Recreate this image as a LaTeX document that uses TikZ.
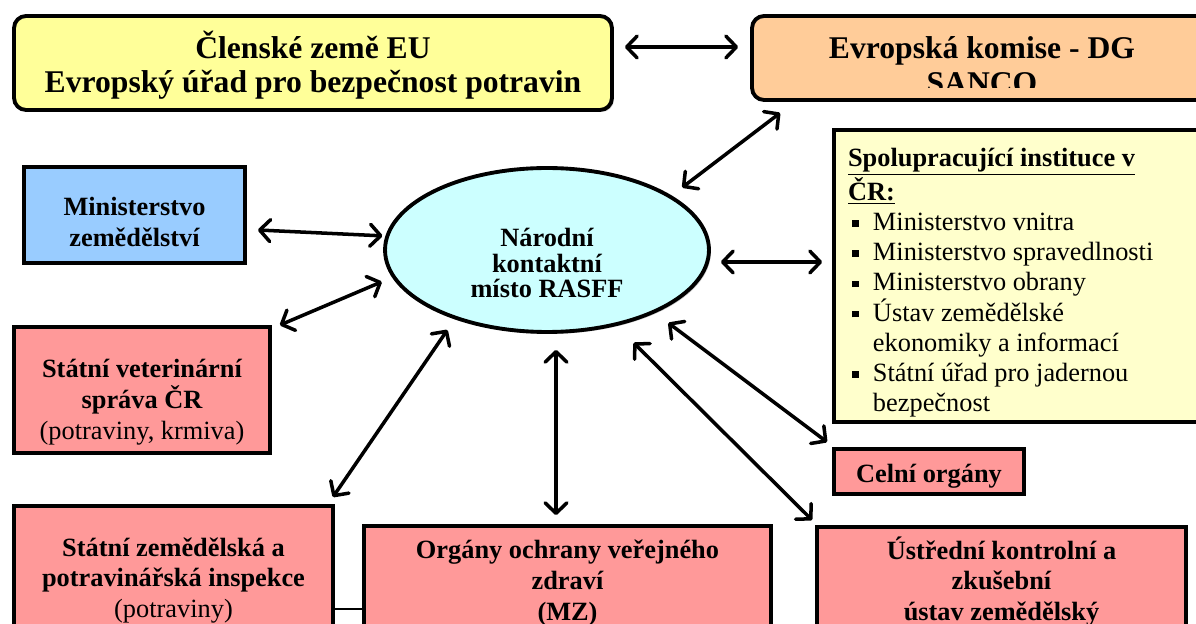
\documentclass[tikz,border=0pt]{standalone}
\usepackage{fontspec}
\setmainfont{Liberation Serif}
\usetikzlibrary{arrows.meta,shadows,shapes.geometric}

\definecolor{euyellow}{HTML}{FFFF99}
\definecolor{sancoorange}{HTML}{FFCC99}
\definecolor{mzeblue}{HTML}{99CCFF}
\definecolor{boxpink}{HTML}{FF9999}
\definecolor{rasffcyan}{HTML}{CCFFFF}
\definecolor{spolyellow}{HTML}{FFFFCC}

\newcommand{\lblfont}{\fontsize{15}{17.6}\selectfont\bfseries}
\newcommand{\topfont}{\fontsize{18}{19.8}\selectfont\bfseries}
\newcommand{\sqbul}{\makebox[14.2pt][l]{\hspace{2.3pt}\raisebox{2.1pt}{\rule{3.8pt}{3.8pt}}}}

\tikzset{
  box/.style={draw,line width=2.2pt,align=center,font=\lblfont,
    drop shadow={shadow xshift=1.1pt,shadow yshift=-1.1pt,fill=black!45}},
  topbox/.style={box,rounded corners=0.24cm,font=\topfont},
  link/.style={line width=2pt,
    {Straight Barb[length=6pt,width=12.5pt,round]}-{Straight Barb[length=6pt,width=12.5pt,round]}},
}

\begin{document}
\begin{tikzpicture}[x=0.02cm,y=-0.02cm]
\useasboundingbox (0,0) rectangle (1196,624);
\clip (0,0) rectangle (1196,624);

% horni rada
\node[topbox,fill=euyellow,minimum width=11.96cm,minimum height=1.88cm,
  text height=34pt,text depth=0pt] (eu) at (313,63)
  {Členské země EU\\Evropský úřad pro bezpečnost potravin};
\node[topbox,fill=sancoorange,minimum width=9.2cm,minimum height=1.68cm] (sanco) at (982,58) {};
\begin{scope}
\clip (sanco.north west) rectangle ([shift={(0,-14)}]sanco.south east);
\node[font=\topfont,align=center,text height=40pt,text depth=0pt] (sancotxt) at (sanco.center)
  {Evropská komise - DG\\SANCO};
\end{scope}

% stred
\node[box,ellipse,fill=rasffcyan,minimum width=6.48cm,minimum height=3.28cm,
  font=\fontsize{15}{14.5}\selectfont\bfseries,
  text height=54.4pt,text depth=0pt] (rasff) at (547,250) {Národní\\kontaktní\\místo RASFF};

% leva strana
\node[box,fill=mzeblue,minimum width=4.42cm,minimum height=1.92cm,
  text height=36.3pt,text depth=0pt] (mze) at (134.5,215) {Ministerstvo\\zemědělství};
\node[box,fill=boxpink,minimum width=5.12cm,minimum height=2.52cm,
  text height=56.7pt,text depth=0pt] (svs) at (142,390)
  {Státní veterinární\\správa ČR\\\mdseries(potraviny, krmiva)};

% dolni rada
\node[box,fill=boxpink,minimum width=6.38cm,minimum height=2.96cm,
  text height=43.1pt,text depth=0pt] (szpi) at (173.5,580)
  {Státní zemědělská a\\potravinářská inspekce\\\mdseries(potraviny)};
\node[box,fill=boxpink,minimum width=8.14cm,minimum height=2.44cm,
  text height=38.5pt,text depth=0pt] (mzbox) at (567.5,587)
  {Orgány ochrany veřejného\\zdraví\\(MZ)};
\node[box,fill=boxpink,minimum width=7.38cm,minimum height=2.18cm,
  text height=44.8pt,text depth=0pt] (ukzuz) at (1001.5,581.5)
  {Ústřední kontrolní a\\zkušební\\ústav zemědělský};

% prava strana
\node[box,fill=boxpink,minimum width=3.8cm,minimum height=0.9cm,
  text height=13pt,text depth=0pt] (celni) at (929,471.5) {Celní orgány};
\node[box,fill=spolyellow,minimum width=7.56cm,minimum height=5.84cm,
  text width=7cm,align=flush left,font=\fontsize{15}{17.2}\selectfont,
  text height=0pt,text depth=124.7pt] (spol) at (1023,276)
  {\textbf{\underline{Spolupracující instituce v}}\\
   \textbf{\underline{ČR:}}\\
   \sqbul Ministerstvo vnitra\\
   \sqbul Ministerstvo spravedlnosti\\
   \sqbul Ministerstvo obrany\\
   \sqbul Ústav zemědělské\\
   \hspace*{14.2pt}ekonomiky a informací\\
   \sqbul Státní úřad pro jadernou\\
   \hspace*{14.2pt}bezpečnost};

% spojnice
\draw[link] ([shift={(11,-16)}]eu.east) -- ([shift={(-12,-11)}]sanco.west);
\draw[link] ([shift={(14,-6)}]rasff.25) -- ([shift={(30,11)}]sanco.south west);
\draw[link] ([shift={(10,12)}]rasff.east) -- ([shift={(-10,-14)}]spol.west);
\draw[link] ([shift={(15,9)}]rasff.-31) -- ([shift={(-5,-5)}]celni.north west);
\draw[link] ([shift={(16,17)}]rasff.-47) -- ([shift={(-3,-5)}]ukzuz.north west);
\draw[link] ([shift={(9,16)}]rasff.south) -- ([shift={(-11.5,-9)}]mzbox.north);
\draw[link] ([shift={(-12,9)}]rasff.-141) -- ([shift={(-2,-7)}]szpi.north east);
\draw[link] ([shift={(-12,2)}]rasff.-169) -- ([shift={(8,0)}]svs.north east);
\draw[link] ([shift={(-3,0)}]rasff.175) -- ([shift={(11,15)}]mze.east);
\draw[line width=0.8pt] ([shift={(0,29)}]szpi.east) -- ([shift={(0,22)}]mzbox.west);
\end{tikzpicture}
\end{document}
